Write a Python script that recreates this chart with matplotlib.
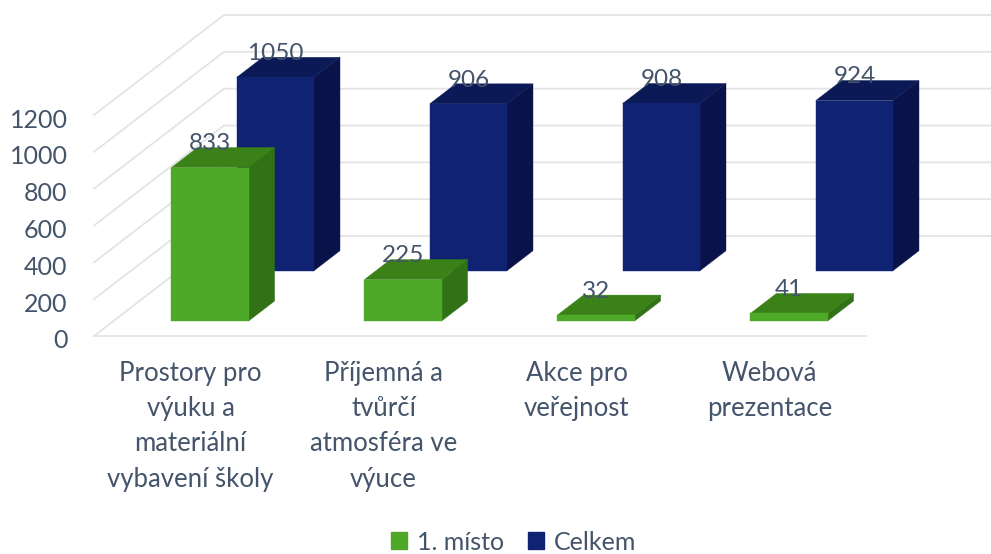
import matplotlib
matplotlib.use('Agg')
import matplotlib.pyplot as plt
from matplotlib.patches import Patch
from matplotlib.transforms import ScaledTranslation

plt.rcParams['font.family'] = ['Lato', 'DejaVu Sans']

categories = ['Prostory pro\nvýuku a\nmateriální\nvybavení školy',
              'Příjemná a\ntvůrčí\natmosféra ve\nvýuce',
              'Akce pro\nveřejnost',
              'Webová\nprezentace']
prvni_misto = [833, 225, 32, 41]
celkem = [1050, 906, 908, 924]
y_ticks = [0, 200, 400, 600, 800, 1000, 1200]

text_color = '#44546A'
grid_color = '#E4E4E4'

# pixels per category / per unit on the front plane
W, H = 991, 554
px_x = 193.0
px_y = 221.0 / 1200
# full depth of the floor, in data units
depth_x = 130 / px_x
depth_y = 100 / px_y

bar_w = 0.4
bar_d = 0.2


def project(x, v, d):
    return x + d * depth_x, v + d * depth_y


def draw_bars(ax, values, d, front, side, top, z):
    for i, v in enumerate(values):
        xl, xr = i - bar_w / 2, i + bar_w / 2
        d2 = d + bar_d
        face = [project(xl, 0, d), project(xr, 0, d), project(xr, v, d), project(xl, v, d)]
        right = [project(xr, 0, d), project(xr, 0, d2), project(xr, v, d2), project(xr, v, d)]
        lid = [project(xl, v, d), project(xr, v, d), project(xr, v, d2), project(xl, v, d2)]
        ax.fill(*zip(*right), color=side, lw=0.3, clip_on=False, zorder=z)
        ax.fill(*zip(*lid), color=top, lw=0.3, clip_on=False, zorder=z)
        ax.fill(*zip(*face), color=front, lw=0.3, clip_on=False, zorder=z)
        lx, ly = project(i, v, d)
        ax.annotate(str(v), (lx, ly), xytext=(0, 17), textcoords='offset points',
                    ha='center', va='center', fontsize=17.5, color=text_color,
                    annotation_clip=False, zorder=10)


fig = plt.figure(figsize=(W / 100, H / 100), dpi=100)
ax = fig.add_axes([94 / W, 1 - 336 / H, 772 / W, 221 / H])
ax.set_xlim(-0.5, 3.5)
ax.set_ylim(0, 1200)
for s in ax.spines.values():
    s.set_visible(False)
ax.patch.set_alpha(0)

# walls and floor
for v in y_ticks:
    x0, y0 = project(-0.5, v, 0)
    x1, y1 = project(-0.5, v, 1)
    x2, y2 = project(3.5, v, 1)
    ax.plot([x0, x1, x2], [y0, y1, y2], color=grid_color, lw=1.3, clip_on=False, zorder=1)
ax.plot([-0.5, 3.5], [0, 0], color=grid_color, lw=1.3, clip_on=False, zorder=1)

draw_bars(ax, celkem, 0.653, '#102372', '#0A1349', '#0B1A57', 3)
draw_bars(ax, prvni_misto, 0.15, '#4EA928', '#327217', '#3A8217', 4)

ax.set_yticks(y_ticks)
ax.set_xticks(range(len(categories)))
ax.set_xticklabels(categories, linespacing=1.51)
ax.tick_params(axis='y', length=0, pad=19, labelsize=18, labelcolor=text_color)
ax.tick_params(axis='x', length=0, pad=18, labelsize=18.5, labelcolor=text_color)

# the labels sit a little under their lines
shift = ScaledTranslation(0, -3 / 100, fig.dpi_scale_trans)
for lab in ax.get_yticklabels():
    lab.set_transform(lab.get_transform() + shift)

handles = [Patch(color='#4EA928', label='1. místo'), Patch(color='#102372', label='Celkem')]
fig.legend(handles=handles, loc='center', bbox_to_anchor=(514 / W, 1 - 542 / H), ncol=2,
           frameon=False, fontsize=18, labelcolor=text_color, handlelength=0.64,
           handleheight=0.64, handletextpad=0.4, columnspacing=0.95)

fig.savefig('out.png', dpi=100)
